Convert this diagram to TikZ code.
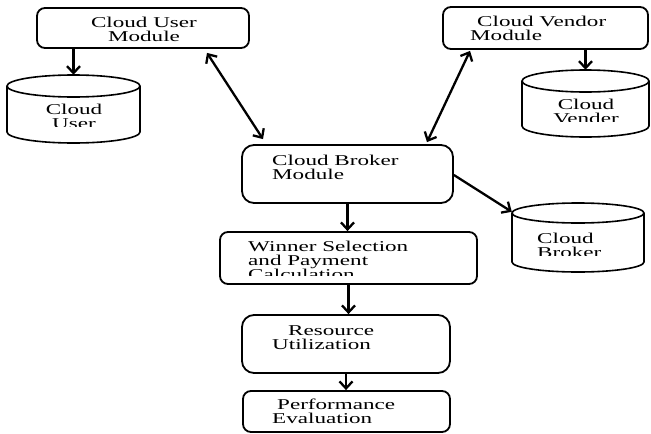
\documentclass[tikz,border=0pt]{standalone}
\usepackage{fontspec}
\setmainfont{Liberation Serif}[FakeStretch=1.54]
\usetikzlibrary{arrows.meta,calc}

\tikzset{
  module/.style={draw, line width=1.8pt, rounded corners=8pt, inner sep=0pt},
  link/.style={line width=2.3pt, -{Straight Barb[length=7pt,width=13pt]}},
  twoway/.style={line width=2.3pt, {Straight Barb[length=7pt,width=13pt]}-{Straight Barb[length=7pt,width=13pt]}},
  txt/.style={inner sep=0pt, anchor=base west, align=left, font=\fontsize{15}{14}\selectfont},
  store/.style={line width=1.6pt}
}

% name, left, top, right, bottom, cap height
\newcommand{\cloudstore}[6]{%
  \node[inner sep=0pt, minimum width={(#4-#2)*1pt}, minimum height={(#5-#3)*1pt}] (#1) at ({(#2+#4)/2},{(#3+#5)/2}) {};
  \draw[store] ({(#2+#4)/2},{#3+#6}) ellipse [x radius={(#4-#2)/2}, y radius=#6];
  \draw[store] (#2,{#3+#6}) -- (#2,{#5-#6}) arc [start angle=180, end angle=0, x radius={(#4-#2)/2}, y radius=#6] -- (#4,{#3+#6});
}

\begin{document}
\begin{tikzpicture}[x=1pt,y=-1pt]
  \useasboundingbox (0,0) rectangle (651,434);

  % modules
  \node[module, minimum width=212pt, minimum height=40pt] (user) at (143,28) {};
  \node[module, minimum width=205pt, minimum height=42pt] (vendor) at (545.5,28) {};
  \node[module, minimum width=211pt, minimum height=58pt, rounded corners=12pt] (broker) at (347.5,174) {};
  \node[module, minimum width=257pt, minimum height=52pt] (winner) at (348.5,258) {};
  \node[module, minimum width=208pt, minimum height=58pt, rounded corners=12pt] (resource) at (346,344) {};
  \node[module, minimum width=207pt, minimum height=41pt] (perf) at (346.5,411.5) {};

  % stores
  \cloudstore{userdb}{7}{75}{140}{143}{11}
  \cloudstore{vendordb}{522}{70}{649}{137}{11}
  \cloudstore{brokerdb}{512}{203}{644}{272}{10}

  % texts (base = last line)
  \node[txt, align=center, anchor=base] (usert) at (144,41) {Cloud User\\Module};
  \node[txt] (vendort) at (470,40) {\hspace*{7pt}Cloud Vendor\\Module};
  \node[txt] (brokert) at (272,179) {Cloud Broker\\Module};
  \node[txt] (resourcet) at (272,349) {\hspace*{16pt}Resource\\Utilization};
  \node[txt] (perft) at (272,423) {\hspace*{5pt}Performance\\Evaluation};
  \begin{scope}
    \clip (0,0) rectangle (651,275);
    \node[txt] (winnert) at (248,279) {Winner Selection\\and Payment\\Calculation};
  \end{scope}
  \begin{scope}
    \clip (0,0) rectangle (651,126);
    \node[txt, align=center, anchor=base] (userdbt) at (74,128) {Cloud\\User};
  \end{scope}
  \begin{scope}
    \clip (0,0) rectangle (651,121);
    \node[txt, align=center, anchor=base] (vendordbt) at (586,123) {Cloud\\Vender};
  \end{scope}
  \begin{scope}
    \clip (0,0) rectangle (651,255);
    \node[txt] (brokerdbt) at (537,257) {Cloud\\Broker};
  \end{scope}

  % connectors
  \draw[link] (user.south -| userdb.north) -- (userdb.north);
  \draw[link] (vendor.south -| vendordb.north) -- (vendordb.north);
  \draw[twoway] ($(user.south)+(64,4)$) -- ($(broker.north)+(-84.5,-5)$);
  \draw[twoway] ($(vendor.south)+(-75.5,1)$) -- ($(broker.north)+(79.5,-2)$);
  \draw[link] ($(broker.east)+(0,1)$) -- ($(brokerdb.north west)+(0,9)$);
  \draw[link] (broker.south) -- (broker.south |- winner.north);
  \draw[link] (winner.south) -- (winner.south |- resource.north);
  \draw[link] (resource.south) -- (resource.south |- perf.north);
\end{tikzpicture}
\end{document}
